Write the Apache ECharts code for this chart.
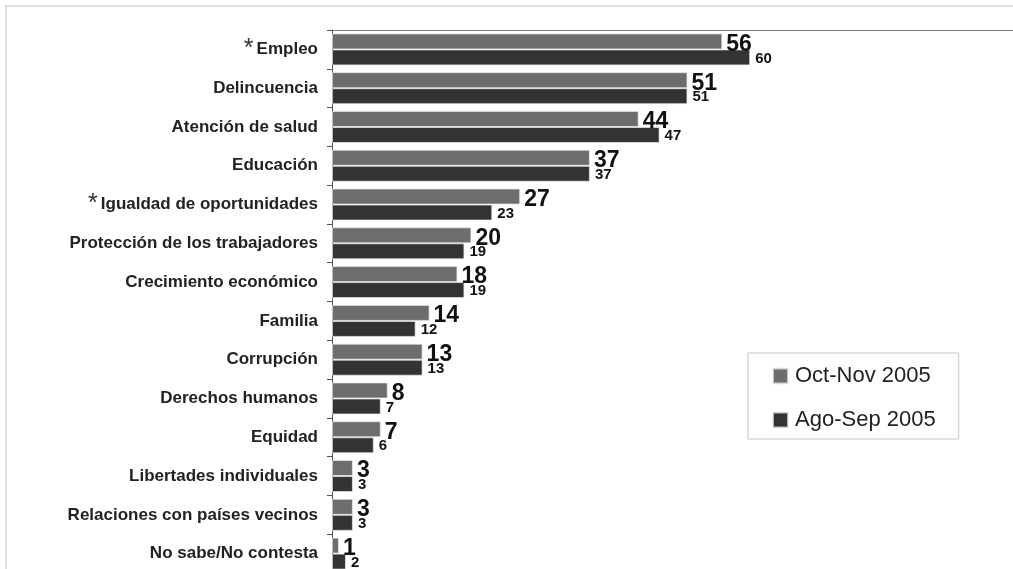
<!DOCTYPE html>
<html>
<head>
<meta charset="utf-8">
<script src="https://cdn.jsdelivr.net/npm/echarts@6/dist/echarts.min.js"></script>
<style>
html,body{margin:0;padding:0;background:#fff;}
#c{width:1013px;height:569px;}
</style>
</head>
<body>
<div id="c"></div>
<script>
const categories = ['Empleo','Delincuencia','Atención de salud','Educación','Igualdad de oportunidades','Protección de los trabajadores','Crecimiento económico','Familia','Corrupción','Derechos humanos','Equidad','Libertades individuales','Relaciones con países vecinos','No sabe/No contesta'];
const octNov2005 = [56,51,44,37,27,20,18,14,13,8,7,3,3,1];
const agoSep2005 = [60,51,47,37,23,19,19,12,13,7,6,3,3,2];
const starred = ['Empleo','Igualdad de oportunidades'];
const seriesNames = ['Oct-Nov 2005','Ago-Sep 2005'];

const chart = echarts.init(document.getElementById('c'), null, {renderer:'canvas'});
const FONT = '"Liberation Sans", Arial, sans-serif';
chart.setOption({
  backgroundColor:'#fff',
  animation:false,
  graphic:[{
    type:'rect', silent:true,
    shape:{x:6,y:6,width:1030,height:600},
    style:{fill:'none',stroke:'#dedede',lineWidth:2}
  }],
  legend:{
    orient:'vertical',
    left:748, top:353,
    padding:[12,23,8,24],
    itemGap:22,
    itemWidth:15, itemHeight:15,
    icon:'rect',
    borderColor:'#c8c8c8', borderWidth:1,
    backgroundColor:'#fff',
    textStyle:{fontFamily:FONT,fontSize:22,color:'#222',padding:[0,0,0,2]},
    data:seriesNames
  },
  grid:{left:332, top:30, width:697, height:543, containLabel:false, outerBoundsMode:'none'},
  xAxis:{
    type:'value', min:0, max:100, position:'top',
    axisLine:{show:true,lineStyle:{color:'#777',width:1}},
    axisTick:{show:false}, axisLabel:{show:false}, splitLine:{show:false}
  },
  yAxis:{
    type:'category', data:categories, inverse:true,
    axisLine:{show:true,lineStyle:{color:'#555',width:1}},
    axisTick:{show:true,length:5,lineStyle:{color:'#555'}},
    axisLabel:{
      margin:14,
      fontFamily:FONT, fontSize:17, fontWeight:'bold', color:'#222',
      formatter:function(v){
        return starred.indexOf(v) >= 0 ? '{a|*}{b|' + v + '}' : v;
      },
      rich:{
        a:{fontFamily:FONT,fontSize:25,fontWeight:'normal',color:'#333',padding:[0,3,0,0]},
        b:{fontFamily:FONT,fontSize:17,fontWeight:'bold',color:'#222'}
      }
    }
  },
  series:[
    {
      name:seriesNames[0], type:'bar', data:octNov2005,
      barWidth:16, barGap:'0%',
      itemStyle:{color:'#6d6d6d',borderColor:'rgba(235,235,235,0.7)',borderWidth:1},
      label:{show:true,position:'right',distance:4,offset:[0,3],
        fontFamily:FONT,fontSize:23,fontWeight:'bold',color:'#111'}
    },
    {
      name:seriesNames[1], type:'bar', data:agoSep2005,
      barWidth:16, barGap:'0%',
      itemStyle:{color:'#333333',borderColor:'rgba(235,235,235,0.7)',borderWidth:1},
      label:{show:true,position:'right',distance:5,offset:[0,1],
        fontFamily:FONT,fontSize:15,fontWeight:'bold',color:'#111'}
    }
  ]
});
</script>
</body>
</html>
